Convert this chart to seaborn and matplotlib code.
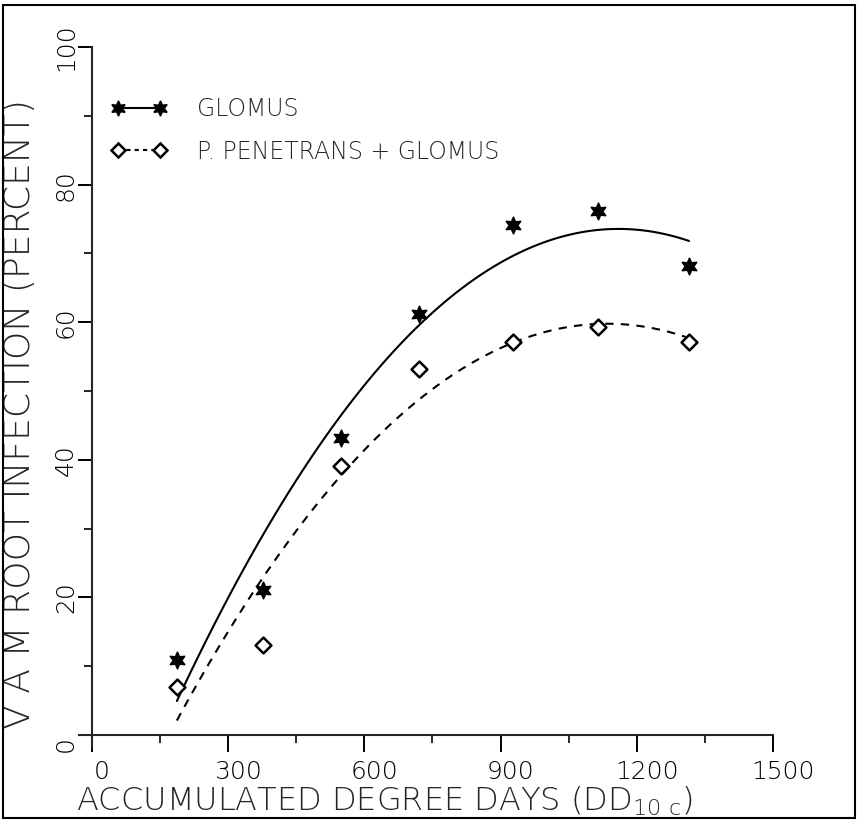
import numpy as np
import pandas as pd
import matplotlib
matplotlib.use('Agg')
import matplotlib.pyplot as plt
import seaborn as sns
from matplotlib.lines import Line2D
from matplotlib.patches import Rectangle
from matplotlib.transforms import ScaledTranslation

# values
degree_days = [187, 377, 548, 720, 927, 1115, 1315]
glomus = [10.9, 21.1, 43.2, 61.2, 74.1, 76.2, 68.2]
pen_glomus = [7.0, 13.1, 39.1, 53.2, 57.1, 59.3, 57.1]
x_ticks = [0, 300, 600, 900, 1200, 1500]
y_ticks = [0, 20, 40, 60, 80, 100]
series_names = ['GLOMUS', 'P. PENETRANS + GLOMUS']

df = pd.DataFrame({'dd': degree_days, 'glomus': glomus, 'pen': pen_glomus})

sns.set_style('ticks')
plt.rcParams['font.family'] = ['DejaVu Sans']
plt.rcParams['mathtext.default'] = 'regular'

fig = plt.figure(figsize=(8.58, 8.21), dpi=100)
ax = fig.add_axes([0.0924, 0.0905, 0.8085, 0.8522])

star = (6, 1, 0)
sns.regplot(data=df, x='dd', y='glomus', order=2, ci=None, scatter=False,
            color='black', line_kws={'lw': 1.5, 'ls': '-'}, ax=ax)
sns.regplot(data=df, x='dd', y='pen', order=2, ci=None, scatter=False,
            color='black', line_kws={'lw': 1.5, 'ls': (0, (4, 3.5))}, ax=ax)
sns.scatterplot(data=df, x='dd', y='glomus', marker=star, s=140, color='black',
                edgecolor='black', linewidth=1.2, ax=ax, zorder=4)
sns.scatterplot(data=df, x='dd', y='pen', marker='D', s=65, facecolor='white',
                edgecolor='black', linewidth=1.8, ax=ax, zorder=4)

ax.set_xlim(-28, 1500)
ax.set_ylim(-1.7, 100)
for s in ['top', 'right']:
    ax.spines[s].set_visible(False)
ax.spines['left'].set_position(('data', 0))
ax.spines['bottom'].set_position(('data', 0))
ax.spines['left'].set_linewidth(1.5)
ax.spines['bottom'].set_linewidth(1.5)

ax.set_xticks(x_ticks)
ax.set_xticks(np.arange(150, 1500, 300), minor=True)
ax.set_yticks(y_ticks)
ax.set_yticks(np.arange(10, 100, 20), minor=True)
ax.tick_params(axis='x', which='major', direction='out', length=12, width=1.4,
               labelsize=18, pad=6, colors='black')
ax.tick_params(axis='x', which='minor', direction='out', length=6, width=1.4)
ax.tick_params(axis='y', which='major', direction='out', length=10, width=1.4,
               labelsize=18, pad=0, labelrotation=90, colors='black')
ax.tick_params(axis='y', which='minor', direction='out', length=6, width=1.4)
for lab in ax.get_yticklabels():
    lab.set_va('center')
    lab.set_fontweight('light')
for tick in ax.xaxis.get_major_ticks():
    tick.label1.set_transform(tick.label1.get_transform()
                              + ScaledTranslation(0.1, 0, fig.dpi_scale_trans))
    tick.label1.set_fontweight('light')
# the zero on the y axis sits a little below the origin
y0 = ax.yaxis.get_major_ticks()[0].label1
y0.set_transform(y0.get_transform()
                 + ScaledTranslation(0, -0.09, fig.dpi_scale_trans))

ax.set_xlabel(r'ACCUMULATED DEGREE DAYS (DD$_{10\ c}$)', fontsize=23,
              fontweight='light')
ax.xaxis.set_label_coords(0.44, -0.054)
ax.set_ylabel('V A M ROOT INFECTION (PERCENT)', fontsize=26, va='center',
              fontweight='light')
ax.yaxis.set_label_coords(-0.085, 0.475)

handles = [
    Line2D([], [], color='black', lw=1.5, ls='-', marker=star, ms=11,
           mfc='black', mec='black'),
    Line2D([], [], color='black', lw=1.5, ls=(0, (2, 2)), marker='D', ms=7.5,
           mfc='white', mec='black', mew=1.8),
]
ax.legend(handles, series_names, loc='upper left', bbox_to_anchor=(0.046, 0.928),
          frameon=False, numpoints=2, handlelength=2.37, handletextpad=1.27,
          labelspacing=0.77, borderpad=0, borderaxespad=0,
          prop={'size': 17, 'weight': 'light'})

fig.add_artist(Rectangle((0.004, 0.004), 0.992, 0.99, transform=fig.transFigure,
                         fill=False, lw=1.5, color='black'))

fig.savefig('out.png', dpi=100, facecolor='white')
